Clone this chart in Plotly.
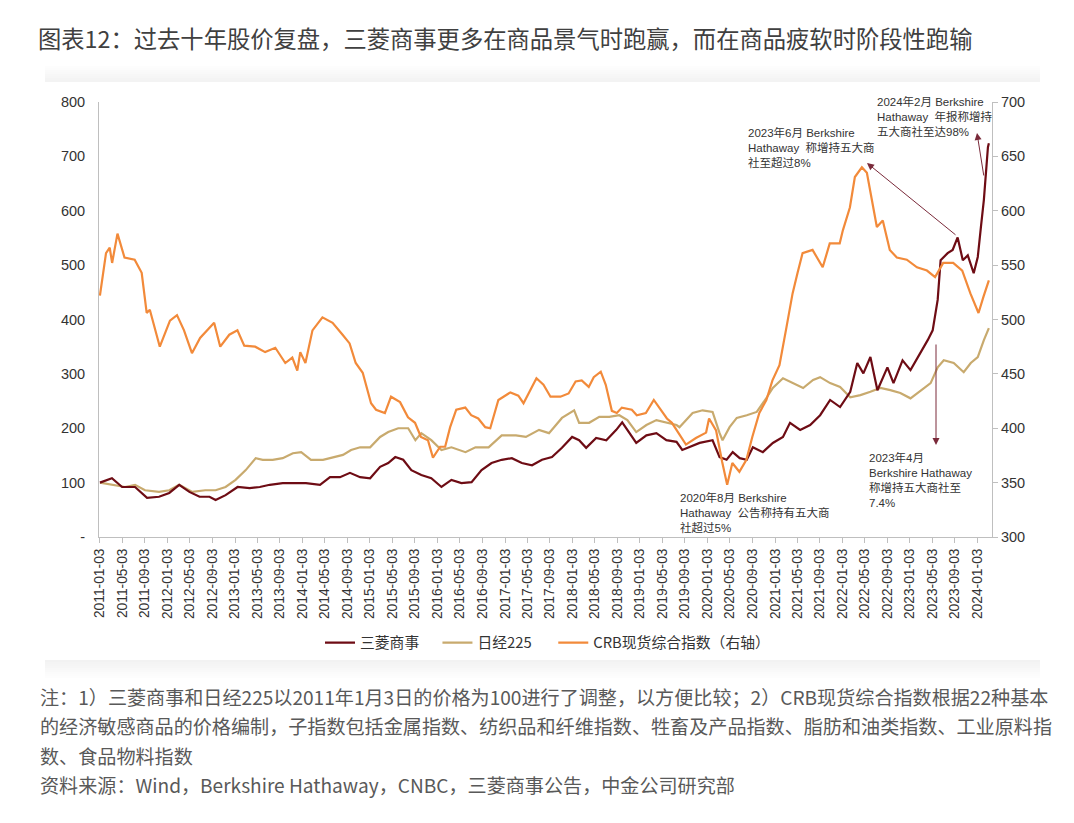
import plotly.graph_objects as go

# ---------------- data ----------------
mitsubishi = [
    ("2011-01-03", 100), ("2011-03-09", 108), ("2011-05-03", 92), ("2011-07-12", 92), ("2011-09-15", 72),
    ("2011-11-19", 74), ("2012-01-13", 81), ("2012-03-07", 96), ("2012-05-01", 83), ("2012-06-25", 74),
    ("2012-08-18", 74), ("2012-09-20", 68), ("2012-11-13", 77), ("2013-01-17", 92), ("2013-03-23", 90),
    ("2013-05-17", 92), ("2013-07-10", 96), ("2013-09-18", 99), ("2013-11-12", 99), ("2014-01-22", 99),
    ("2014-04-08", 96), ("2014-06-01", 110), ("2014-07-25", 110), ("2014-09-17", 118), ("2014-11-11", 110),
    ("2015-01-04", 108), ("2015-02-27", 129), ("2015-04-12", 136), ("2015-05-20", 147), ("2015-07-02", 142),
    ("2015-08-15", 123), ("2015-10-08", 114), ("2015-12-01", 108), ("2016-01-25", 92), ("2016-03-19", 105),
    ("2016-05-12", 99), ("2016-07-06", 101), ("2016-08-29", 123), ("2016-10-22", 136), ("2016-12-16", 142),
    ("2017-02-09", 145), ("2017-04-04", 136), ("2017-05-29", 132), ("2017-07-22", 142), ("2017-09-14", 147),
    ("2017-11-07", 164), ("2018-01-01", 184), ("2018-02-08", 178), ("2018-03-18", 164), ("2018-05-11", 182),
    ("2018-07-05", 178), ("2018-08-28", 197), ("2018-09-29", 211), ("2018-11-06", 191), ("2018-12-14", 173),
    ("2019-02-07", 187), ("2019-04-02", 191), ("2019-05-26", 178), ("2019-07-20", 175), ("2019-08-20", 160),
    ("2019-09-28", 165), ("2019-11-22", 173), ("2020-01-31", 178), ("2020-03-09", 147), ("2020-04-16", 142),
    ("2020-05-19", 156), ("2020-06-26", 145), ("2020-08-03", 142), ("2020-09-05", 165), ("2020-10-29", 156),
    ("2020-12-22", 173), ("2021-02-15", 184), ("2021-03-25", 210), ("2021-05-19", 197), ("2021-07-12", 206),
    ("2021-09-04", 224), ("2021-10-28", 252), ("2021-12-21", 239), ("2022-02-14", 267), ("2022-03-24", 320),
    ("2022-04-26", 301), ("2022-06-03", 331), ("2022-07-11", 270), ("2022-09-03", 312), ("2022-10-06", 283),
    ("2022-11-24", 325), ("2023-01-06", 307), ("2023-03-02", 338), ("2023-04-09", 362), ("2023-05-06", 380),
    ("2023-06-02", 436), ("2023-06-18", 509), ("2023-07-26", 522), ("2023-08-22", 528), ("2023-09-18", 551),
    ("2023-10-16", 509), ("2023-11-12", 518), ("2023-12-14", 485), ("2024-01-05", 515), ("2024-01-22", 570),
    ("2024-02-07", 620), ("2024-02-29", 717), ("2024-03-05", 724),
]

nikkei = [
    ("2011-01-03", 100), ("2011-03-09", 96), ("2011-05-19", 92), ("2011-07-12", 96), ("2011-09-04", 86),
    ("2011-11-19", 83), ("2012-01-13", 86), ("2012-03-07", 96), ("2012-05-17", 83), ("2012-07-26", 86),
    ("2012-09-20", 86), ("2012-11-13", 92), ("2013-01-06", 105), ("2013-03-02", 123), ("2013-04-25", 145),
    ("2013-06-02", 142), ("2013-07-26", 142), ("2013-09-18", 145), ("2013-11-12", 154), ("2013-12-27", 156),
    ("2014-02-18", 142), ("2014-04-24", 142), ("2014-06-17", 147), ("2014-08-10", 151), ("2014-09-23", 160),
    ("2014-11-11", 165), ("2015-01-04", 165), ("2015-02-27", 184), ("2015-04-12", 193), ("2015-06-05", 200),
    ("2015-07-29", 200), ("2015-09-06", 178), ("2015-10-08", 191), ("2015-12-01", 178), ("2016-01-25", 160),
    ("2016-03-19", 165), ("2016-06-03", 156), ("2016-07-27", 165), ("2016-10-06", 165), ("2016-12-16", 187),
    ("2017-03-03", 187), ("2017-04-26", 184), ("2017-07-06", 197), ("2017-08-29", 191), ("2017-11-07", 219),
    ("2018-01-12", 233), ("2018-02-08", 210), ("2018-04-03", 210), ("2018-05-28", 221), ("2018-07-21", 221),
    ("2018-09-13", 224), ("2018-10-27", 215), ("2018-12-14", 193), ("2019-02-07", 206), ("2019-04-02", 215),
    ("2019-05-26", 210), ("2019-07-20", 206), ("2019-08-05", 202), ("2019-10-15", 228), ("2019-12-08", 233),
    ("2020-01-31", 230), ("2020-03-09", 191), ("2020-03-25", 178), ("2020-05-02", 202), ("2020-06-10", 219),
    ("2020-08-03", 224), ("2020-09-26", 230), ("2020-11-20", 257), ("2020-12-22", 274), ("2021-02-15", 292),
    ("2021-04-11", 283), ("2021-06-04", 274), ("2021-07-28", 289), ("2021-09-04", 294), ("2021-10-28", 283),
    ("2021-12-21", 276), ("2022-02-14", 257), ("2022-04-10", 261), ("2022-06-03", 267), ("2022-07-27", 274),
    ("2022-09-19", 270), ("2022-11-12", 265), ("2023-01-06", 255), ("2023-03-02", 270), ("2023-04-25", 283),
    ("2023-06-02", 312), ("2023-07-05", 325), ("2023-08-28", 320), ("2023-10-21", 303), ("2023-11-28", 320),
    ("2024-01-05", 331), ("2024-02-07", 362), ("2024-03-05", 384),
]

crb = [
    ("2011-01-03", 522), ("2011-02-05", 561), ("2011-02-25", 566), ("2011-03-10", 552), ("2011-04-08", 579),
    ("2011-05-16", 557), ("2011-07-10", 555), ("2011-08-17", 543),
    ("2011-09-13", 506), ("2011-09-30", 509), ("2011-11-23", 475), ("2012-01-17", 499), ("2012-02-24", 504),
    ("2012-04-02", 490), ("2012-05-15", 469), ("2012-06-28", 483), ("2012-09-12", 497), ("2012-10-15", 475),
    ("2012-12-03", 486), ("2013-01-16", 490), ("2013-02-22", 476), ("2013-04-22", 475), ("2013-06-15", 470),
    ("2013-08-09", 474), ("2013-10-02", 460), ("2013-11-09", 465), ("2013-12-06", 453), ("2013-12-22", 470),
    ("2014-01-19", 460), ("2014-02-26", 490), ("2014-04-21", 502), ("2014-06-15", 497), ("2014-08-08", 486),
    ("2014-09-15", 478), ("2014-10-18", 460), ("2014-11-25", 451), ("2015-01-09", 423), ("2015-02-05", 417),
    ("2015-03-25", 414), ("2015-04-27", 429), ("2015-06-15", 424), ("2015-07-28", 410), ("2015-09-04", 405),
    ("2015-10-06", 392), ("2015-11-13", 389), ("2015-12-10", 373), ("2016-01-18", 383), ("2016-02-14", 383),
    ("2016-03-12", 401), ("2016-04-14", 417), ("2016-06-02", 419), ("2016-07-04", 412), ("2016-08-11", 409),
    ("2016-09-18", 401), ("2016-10-15", 400), ("2016-11-28", 426), ("2017-02-01", 433), ("2017-03-16", 430),
    ("2017-04-13", 423), ("2017-05-10", 432), ("2017-06-22", 446), ("2017-07-30", 440), ("2017-09-06", 429),
    ("2017-10-30", 429), ("2017-12-13", 432), ("2018-01-20", 443), ("2018-02-22", 444), ("2018-04-01", 438),
    ("2018-04-28", 447), ("2018-06-05", 452), ("2018-07-02", 440), ("2018-08-04", 416), ("2018-08-31", 414),
    ("2018-09-27", 419), ("2018-11-20", 417), ("2018-12-17", 412), ("2019-02-04", 414), ("2019-03-19", 426),
    ("2019-04-26", 417), ("2019-05-29", 409), ("2019-06-25", 405), ("2019-07-22", 398), ("2019-09-09", 385),
    ("2019-11-02", 391), ("2019-12-27", 396), ("2020-01-12", 409), ("2020-02-19", 398), ("2020-03-23", 369),
    ("2020-04-19", 348), ("2020-05-17", 368), ("2020-06-24", 360), ("2020-08-01", 371), ("2020-09-02", 392),
    ("2020-10-10", 414), ("2020-11-17", 426), ("2020-12-20", 444), ("2021-01-27", 458), ("2021-03-06", 493),
    ("2021-04-08", 524), ("2021-05-05", 543), ("2021-06-01", 561), ("2021-07-25", 564), ("2021-09-18", 548),
    ("2021-10-26", 570), ("2021-12-19", 570), ("2022-01-05", 582), ("2022-02-12", 603), ("2022-03-11", 631),
    ("2022-04-18", 640), ("2022-05-15", 635), ("2022-06-11", 610), ("2022-07-08", 585), ("2022-08-09", 591),
    ("2022-09-16", 564), ("2022-10-24", 557), ("2022-12-17", 555), ("2023-02-10", 548), ("2023-04-05", 545),
    ("2023-05-19", 539), ("2023-07-02", 552), ("2023-08-25", 552), ("2023-10-13", 545), ("2023-11-26", 524),
    ("2024-01-09", 506), ("2024-02-05", 521), ("2024-03-05", 536),
]

series_names = ["三菱商事", "日经225", "CRB现货综合指数（右轴）"]
x_tick_labels = [f"{y}-{m:02d}-03" for y in range(2011, 2025) for m in (1, 5, 9) if f"{y}-{m:02d}" <= "2024-01"]
left_tick_vals = [0, 100, 200, 300, 400, 500, 600, 700, 800]
left_tick_text = ["-", "100", "200", "300", "400", "500", "600", "700", "800"]
right_tick_vals = [300, 350, 400, 450, 500, 550, 600, 650, 700]

title_text = "图表12：过去十年股价复盘，三菱商事更多在商品景气时跑赢，而在商品疲软时阶段性跑输"
note_lines = [
    "注：1）三菱商事和日经225以2011年1月3日的价格为100进行了调整，以方便比较；2）CRB现货综合指数根据22种基本",
    "的经济敏感商品的价格编制，子指数包括金属指数、纺织品和纤维指数、牲畜及产品指数、脂肪和油类指数、工业原料指",
    "数、食品物料指数",
    "资料来源：Wind，Berkshire Hathaway，CNBC，三菱商事公告，中金公司研究部",
]
ann_texts = [
    "2024年2月 Berkshire<br>Hathaway  年报称增持<br>五大商社至达98%",
    "2023年6月 Berkshire<br>Hathaway  称增持五大商<br>社至超过8%",
    "2020年8月 Berkshire<br>Hathaway  公告称持有五大商<br>社超过5%",
    "2023年4月<br>Berkshire Hathaway<br>称增持五大商社至<br>7.4%",
]

# ---------------- layout geometry (reference pixel coords) ----------------
OFF = 8                      # page body margin
W, H = 1074 - 2 * OFF, 823 - 2 * OFF
L, R, T, B = 99, 992, 102, 537
PW, PH = R - L, B - T


def px(x):
    return (x - L) / PW


def py(y):
    return (B - y) / PH


RED, TAN, ORANGE = "#6e0c14", "#c8aa6e", "#f28a3a"
AXIS = "#bfbfbf"
CJK = "Noto Sans CJK SC, Arial, sans-serif"
LAT = "Arial, Liberation Sans, Noto Sans CJK SC, sans-serif"
PAD = "\u00a0"

fig = go.Figure()
fig.add_trace(go.Scatter(x=[d for d, _ in crb], y=[v for _, v in crb], name=series_names[2],
                         mode="lines", line=dict(color=ORANGE, width=2.2), yaxis="y2", legendrank=3))
fig.add_trace(go.Scatter(x=[d for d, _ in nikkei], y=[v for _, v in nikkei], name=series_names[1] + PAD * 5,
                         mode="lines", line=dict(color=TAN, width=2.2), legendrank=2))
fig.add_trace(go.Scatter(x=[d for d, _ in mitsubishi], y=[v for _, v in mitsubishi], name=series_names[0] + PAD * 4,
                         mode="lines", line=dict(color=RED, width=2.2), legendrank=1))

shapes = []
# card shadow (top and bottom)
for i in range(8):
    a = 0.006 + 0.006 * i
    shapes.append(dict(type="rect", xref="paper", yref="paper", layer="below",
                       x0=px(45), x1=px(1040), y0=py(66 + 2 * i), y1=py(68 + 2 * i),
                       fillcolor=f"rgba(0,0,0,{a:.3f})", line=dict(width=0)))
for i in range(9):
    a = 0.05 - 0.0055 * i
    shapes.append(dict(type="rect", xref="paper", yref="paper", layer="below",
                       x0=px(45), x1=px(1040), y0=py(660 + 2 * i), y1=py(662 + 2 * i),
                       fillcolor=f"rgba(0,0,0,{a:.3f})", line=dict(width=0)))

annotations = []
ann_pos = [(875, 93), (746, 124), (678, 489), (867, 449)]
for t, (ax_, ay_) in zip(ann_texts, ann_pos):
    annotations.append(dict(text=t, xref="paper", yref="paper", x=px(ax_), y=py(ay_),
                            xanchor="left", yanchor="top", align="left", showarrow=False,
                            font=dict(family=LAT, size=11.5, color="#333333")))
# arrows
arrows = [((867, 163), 90, 73), ((977, 133), 7, 44), ((936, 445), 0, -102)]
for (hx, hy), dx, dy in arrows:
    annotations.append(dict(text="", xref="paper", yref="paper", x=px(hx), y=py(hy),
                            ax=dx, ay=dy, showarrow=True, arrowhead=2, arrowsize=1.4,
                            arrowwidth=1, arrowcolor="#7a2a3a"))
# footnotes
for i, line in enumerate(note_lines):
    annotations.append(dict(text=line, xref="paper", yref="paper", x=px(38), y=py(697 + 29.3 * i),
                            xanchor="left", yanchor="middle", showarrow=False,
                            font=dict(family=CJK, size=19.1, color="#595959")))

fig.update_layout(
    width=W, height=H, autosize=False,
    margin=dict(l=L - OFF, r=(OFF + W) - R, t=T - OFF, b=(OFF + H) - B, pad=0),
    paper_bgcolor="white", plot_bgcolor="white",
    title=dict(text=title_text, x=(38 - OFF) / W, xanchor="left", y=1 - (40 - OFF) / H, yanchor="middle",
               font=dict(family=CJK, size=23.3, color="#404040")),
    showlegend=True,
    legend=dict(orientation="h", x=px(320), xanchor="left", y=py(643), yanchor="middle",
                font=dict(family=CJK, size=14.8, color="#333333"), itemwidth=30,
                bgcolor="rgba(0,0,0,0)"),
    xaxis=dict(type="date", range=["2010-12-29", "2024-03-22"], tickmode="array",
               tickvals=x_tick_labels, ticktext=x_tick_labels, tickangle=-90,
               ticks="outside", ticklen=5, tickcolor=AXIS, showline=True, linecolor=AXIS,
               linewidth=1, showgrid=False, zeroline=False,
               tickfont=dict(family=LAT, size=13.8, color="#333333")),
    yaxis=dict(range=[0, 800], tickmode="array", tickvals=left_tick_vals, ticktext=left_tick_text,
               showline=True, linecolor=AXIS, linewidth=1, ticks="", showgrid=False, zeroline=False,
               ticklabelstandoff=10, tickfont=dict(family=LAT, size=14.5, color="#333333")),
    yaxis2=dict(range=[300, 700], overlaying="y", side="right", tickmode="array",
                tickvals=right_tick_vals, showline=True, linecolor=AXIS, linewidth=1,
                ticks="outside", ticklen=5, tickcolor=AXIS, showgrid=False, zeroline=False,
                tickfont=dict(family=LAT, size=14.5, color="#333333")),
    shapes=shapes,
    annotations=annotations,
)

fig.write_html("out.html")
